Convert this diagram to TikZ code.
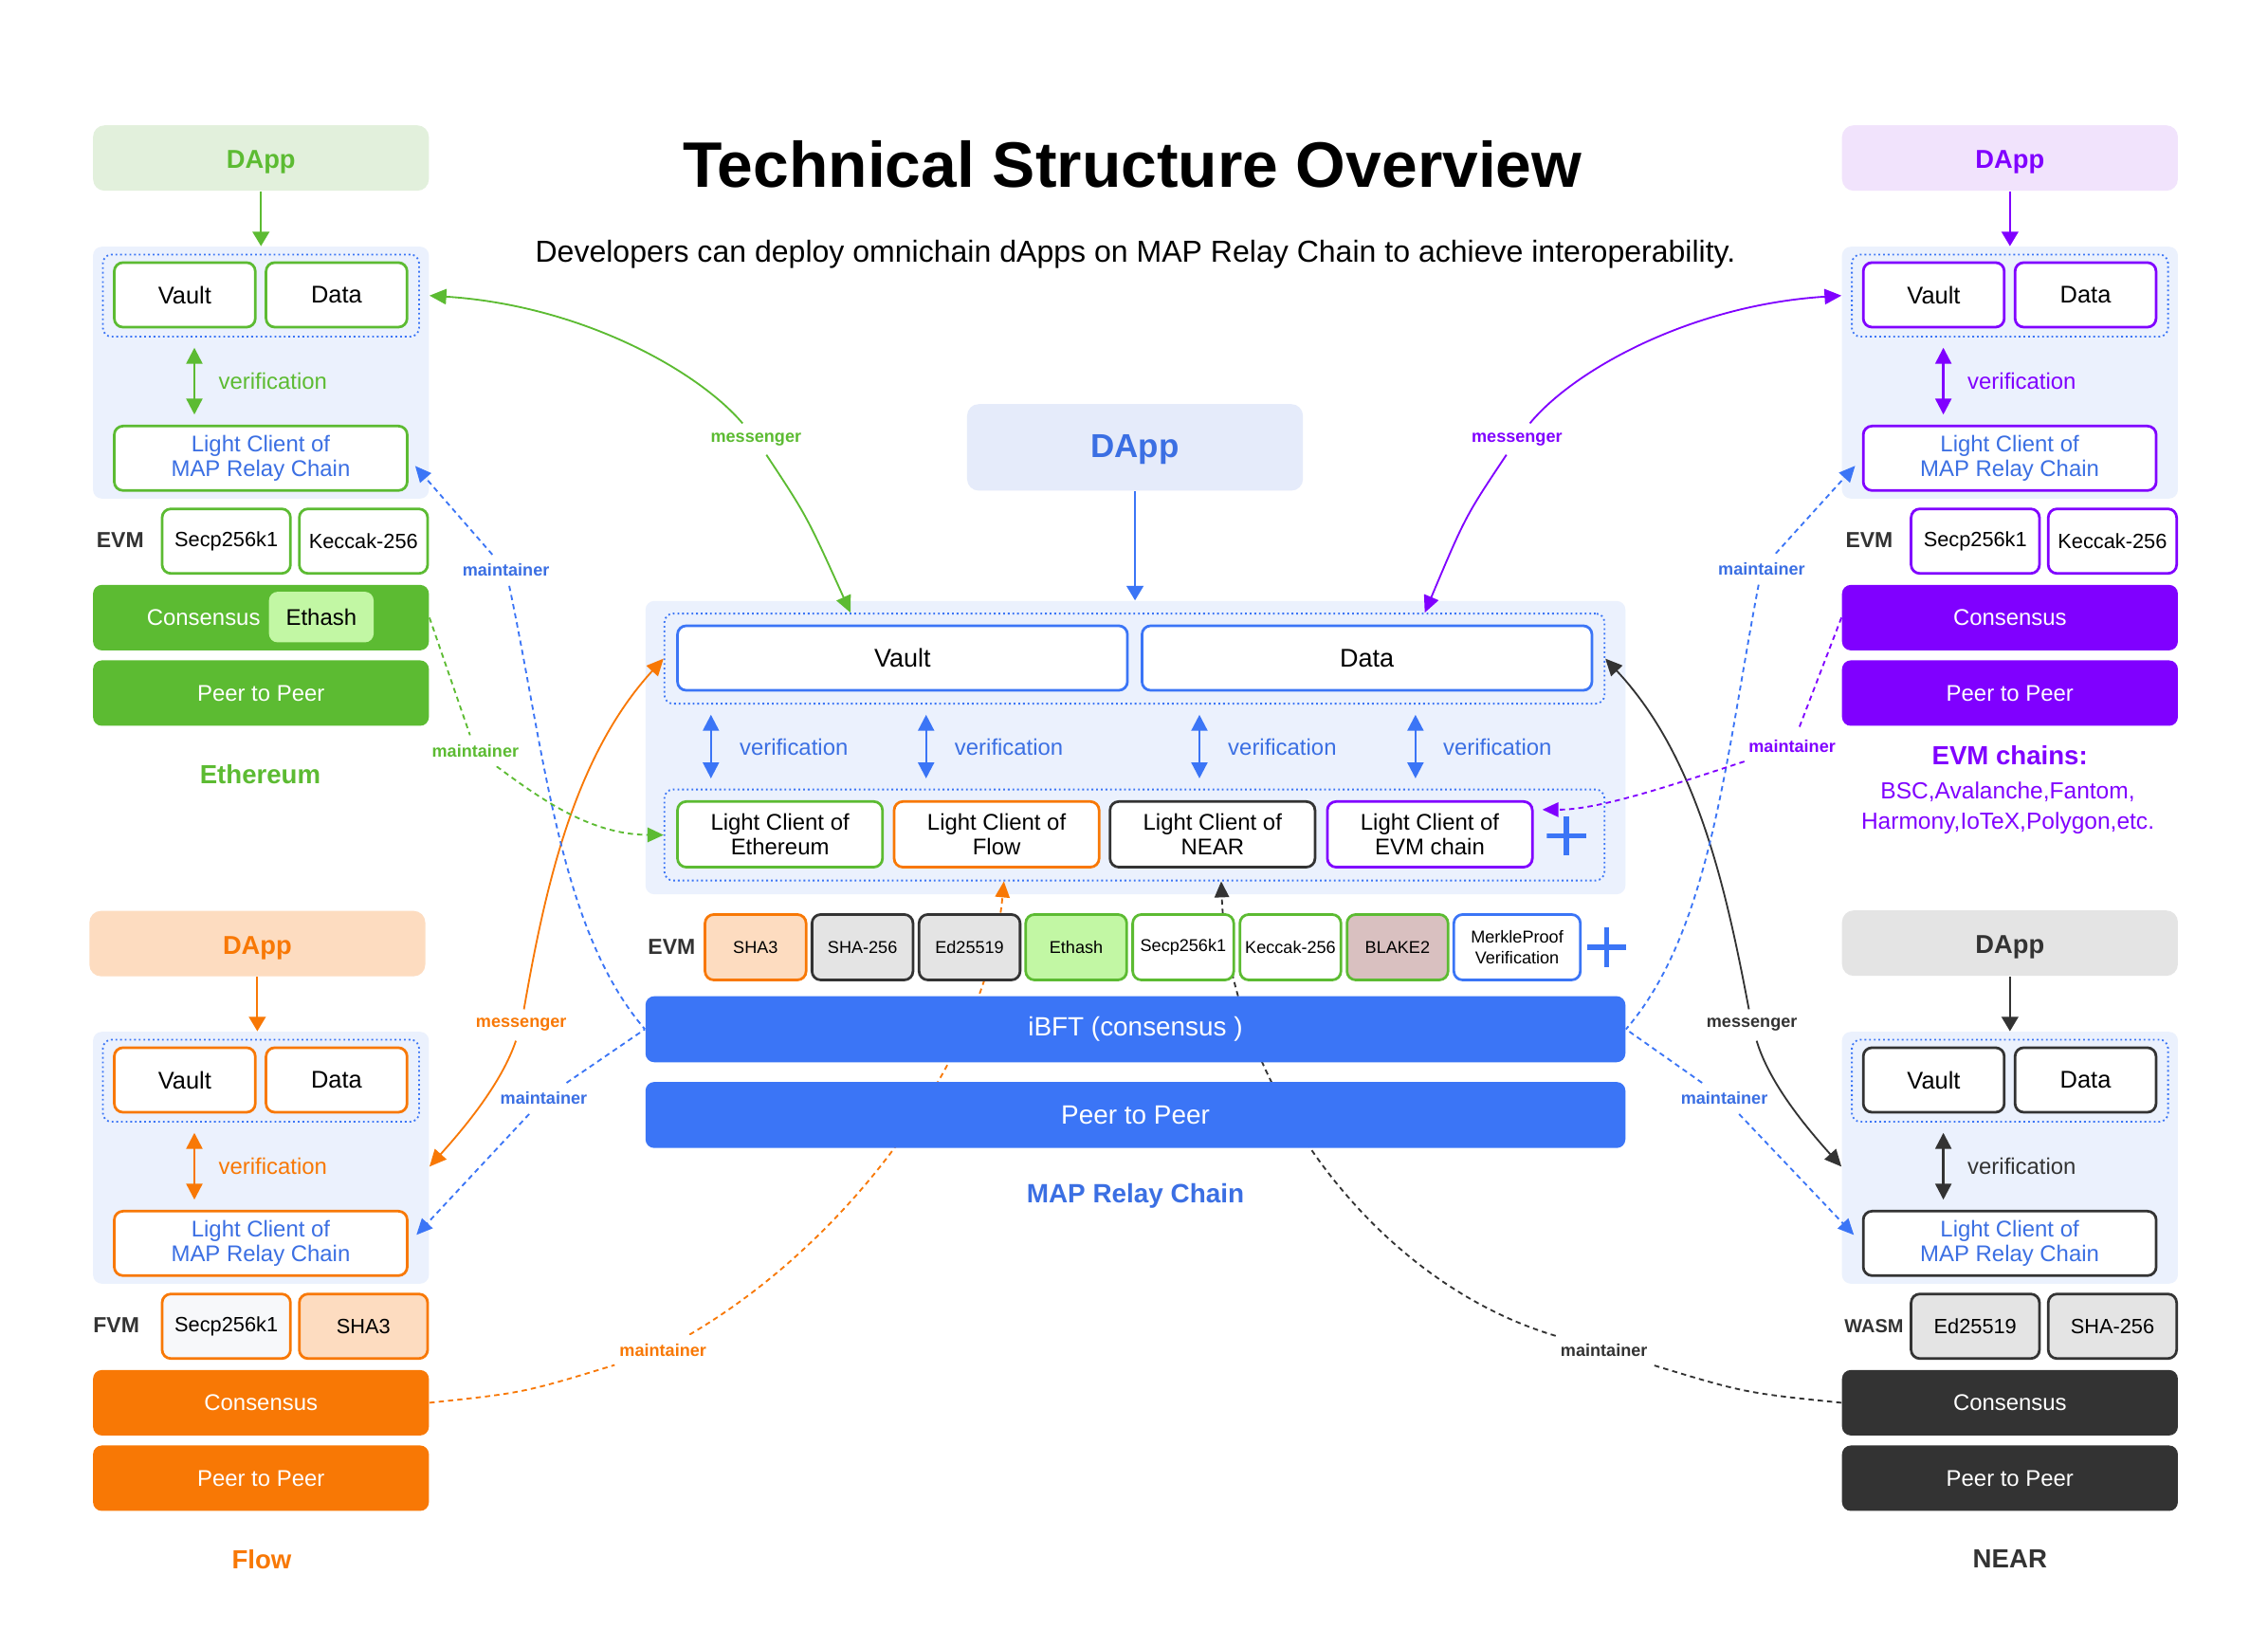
\documentclass[tikz,border=0pt]{standalone}
\usepackage{fontspec}
\setmainfont{Liberation Sans}
\usetikzlibrary{arrows.meta,calc}
\pgfdeclarelayer{back}
\pgfdeclarelayer{links}
\pgfsetlayers{back,links,main}
\definecolor{gGreen}{HTML}{5CBB32}
\definecolor{gGreenL}{HTML}{E2F0DC}
\definecolor{gHash}{HTML}{C2F7A4}
\definecolor{pPurple}{HTML}{8000FF}
\definecolor{pPurpleL}{HTML}{F1E3FC}
\definecolor{oOrange}{HTML}{F87805}
\definecolor{oOrangeL}{HTML}{FDDCC0}
\definecolor{kDark}{HTML}{333333}
\definecolor{kGrey}{HTML}{E4E4E4}
\definecolor{bBlue}{HTML}{3B75F6}
\definecolor{bText}{HTML}{3B6FE3}
\definecolor{bPanel}{HTML}{EBF1FD}
\definecolor{bApp}{HTML}{E5EBFA}
\definecolor{rBlake}{HTML}{D9C0C0}
\definecolor{fSecp}{HTML}{F7F8FA}

\begin{document}
\begin{tikzpicture}[x=0.5pt,y=-0.5pt,
    panel/.style={fill=bPanel, rounded corners=3pt, inner sep=0pt, minimum width=115.5pt, minimum height=86.6pt},
    dotbox/.style={draw=bBlue, densely dotted, line width=0.6pt, rounded corners=3pt, inner sep=0pt},
    cbox/.style={draw, fill=white, line width=0.9pt, rounded corners=3pt, inner sep=0pt, align=center, text=black},
    bar/.style={rounded corners=3pt, inner sep=0pt, text=white, minimum width=115.5pt, minimum height=22.5pt, font=\fontsize{7.8}{9}\selectfont},
    appbox/.style={rounded corners=4pt, inner sep=0pt, minimum width=115.5pt, minimum height=22.5pt, text height=0.72em, text depth=0pt, font=\bfseries\fontsize{8.9}{10}\selectfont},
    vmtag/.style={font=\bfseries\fontsize{7.5}{9}\selectfont, text=kDark},
    side/.style={cbox, minimum width=48.5pt, minimum height=22.2pt, font=\fontsize{8.3}{10}\selectfont},
    crypto/.style={cbox, minimum width=44.15pt, minimum height=22.2pt, font=\fontsize{7.1}{9}\selectfont},
    sidelc/.style={cbox, text=bText, minimum width=100.75pt, minimum height=22.15pt, font=\fontsize{7.8}{8.6}\selectfont},
    verlbl/.style={anchor=west, inner sep=0pt, font=\fontsize{7.8}{9}\selectfont},
    chainname/.style={font=\bfseries\fontsize{9}{11}\selectfont},
    lbl/.style={fill=white, inner xsep=1.5pt, inner ysep=3pt, font=\bfseries\fontsize{5.9}{7}\selectfont},
    evmbox/.style={cbox, minimum width=34.75pt, minimum height=22.5pt, font=\fontsize{5.9}{7.2}\selectfont},
    centerlc/.style={cbox, minimum width=70.5pt, minimum height=22.55pt, font=\fontsize{7.8}{8.7}\selectfont},
    plussign/.style={minimum size=13.5pt, inner sep=0pt, path picture={\draw[bBlue, line width=1.8pt] (path picture bounding box.west) -- (path picture bounding box.east) (path picture bounding box.north) -- (path picture bounding box.south);}},
    down/.style={-{Triangle[length=5pt,width=5.8pt]}, line width=0.7pt},
    ver/.style={{Triangle[length=5.5pt,width=5.5pt]}-{Triangle[length=5.5pt,width=5.5pt]}, line width=0.8pt, shorten <=3.5pt, shorten >=3.5pt},
    msg/.style={-{Triangle[length=5.8pt,width=5.3pt]}, line width=0.6pt},
    mnt/.style={-{Triangle[length=5.5pt,width=5pt]}, line width=0.6pt, dash pattern=on 1.8pt off 1.4pt},
    mntline/.style={line width=0.6pt, dash pattern=on 1.8pt off 1.4pt}]

    \useasboundingbox (0,0) rectangle (1560,1120.4);

    \begin{pgfonlayer}{back}
        \fill[white] (0,0) rectangle (1560,1120.4);
        \node[panel] (ethPanel) at (179.5,256.3) {};
        \node[panel] (evmPanel) at (1382.5,256.3) {};
        \node[panel] (flowPanel) at (179.5,796.3) {};
        \node[panel] (nearPanel) at (1382.5,796.3) {};
        \node[panel, minimum width=337pt, minimum height=100.85pt] (cPanel) at (781,514.2) {};
    \end{pgfonlayer}

    % title
    \node[font=\bfseries\fontsize{22.1}{26}\selectfont] (title) at (779,113) {Technical Structure Overview};
    \node[font=\fontsize{10.45}{12}\selectfont] (subtitle) at (781,175) {Developers can deploy omnichain dApps on MAP Relay Chain to achieve interoperability.};

    % Ethereum
    \node[appbox, fill=gGreenL, text=gGreen] (ethApp) at (179.5,108.7) {DApp};
    \node[dotbox, minimum width=108.75pt, minimum height=28.25pt] (ethDot) at (179.5,203.3) {};
    \node[side, draw=gGreen] (ethVault) at (127.1,202.8) {Vault};
    \node[side, draw=gGreen] (ethData) at (231.5,202.8) {Data};
    \node[verlbl, text=gGreen] (ethVer) at (150,262.4) {verification};
    \node[sidelc, draw=gGreen] (ethLC) at (179.35,315.2) {Light Client of\\MAP Relay Chain};
    \node[vmtag] (ethVM) at (82.7,371.6) {EVM};
    \node[crypto, draw=gGreen] (ethSecp) at (155.65,372.2) {Secp256k1};
    \node[crypto, draw=gGreen] (ethKec) at (250,372.2) {Keccak-256};
    \node[bar, fill=gGreen] (ethCons) at (179.5,424.8) {};
    \node[text=white, font=\fontsize{7.8}{9}\selectfont] (ethConsT) at (140,425) {Consensus};
    \node[rounded corners=3pt, fill=gHash, minimum width=36pt, minimum height=17.4pt, inner sep=0pt, font=\fontsize{7.8}{9}\selectfont] (ethHash) at (221,424.4) {Ethash};
    \node[bar, fill=gGreen] (ethP2P) at (179.5,476.7) {Peer to Peer};
    \node[chainname, text=gGreen] (ethName) at (179,532.3) {Ethereum};

    % EVM chains
    \node[appbox, fill=pPurpleL, text=pPurple] (evmApp) at (1382.5,108.7) {DApp};
    \node[dotbox, minimum width=108.75pt, minimum height=28.25pt] (evmDot) at (1382.5,203.3) {};
    \node[side, draw=pPurple] (evmVault) at (1330.1,202.8) {Vault};
    \node[side, draw=pPurple] (evmData) at (1434.5,202.8) {Data};
    \node[verlbl, text=pPurple] (evmVer) at (1353,262.4) {verification};
    \node[sidelc, draw=pPurple] (evmLC) at (1382.35,315.2) {Light Client of\\MAP Relay Chain};
    \node[vmtag] (evmVM) at (1285.7,371.6) {EVM};
    \node[crypto, draw=pPurple] (evmSecp) at (1358.65,372.2) {Secp256k1};
    \node[crypto, draw=pPurple] (evmKec) at (1453,372.2) {Keccak-256};
    \node[bar, fill=pPurple] (evmCons) at (1382.5,424.8) {Consensus};
    \node[bar, fill=pPurple] (evmP2P) at (1382.5,476.7) {Peer to Peer};
    \node[chainname, text=pPurple] (evmName) at (1382.4,519.6) {EVM chains:};
    \node[text=pPurple, align=center, font=\fontsize{8}{10.5}\selectfont] (evmList) at (1381,556) {BSC,Avalanche,Fantom,\\Harmony,IoTeX,Polygon,etc.};

    % Flow
    \node[appbox, fill=oOrangeL, text=oOrange] (flowApp) at (177,649) {DApp};
    \node[dotbox, minimum width=108.75pt, minimum height=28.25pt] (flowDot) at (179.5,743.3) {};
    \node[side, draw=oOrange] (flowVault) at (127.1,742.8) {Vault};
    \node[side, draw=oOrange] (flowData) at (231.5,742.8) {Data};
    \node[verlbl, text=oOrange] (flowVer) at (150,802.4) {verification};
    \node[sidelc, draw=oOrange] (flowLC) at (179.35,855.2) {Light Client of\\MAP Relay Chain};
    \node[vmtag] (flowVM) at (80,911.6) {FVM};
    \node[crypto, draw=oOrange, fill=fSecp] (flowSecp) at (155.65,912.2) {Secp256k1};
    \node[crypto, draw=oOrange, fill=oOrangeL] (flowSha) at (250,912.2) {SHA3};
    \node[bar, fill=oOrange] (flowCons) at (179.5,964.8) {Consensus};
    \node[bar, fill=oOrange] (flowP2P) at (179.5,1016.7) {Peer to Peer};
    \node[chainname, text=oOrange] (flowName) at (180,1072.3) {Flow};

    % NEAR
    \node[appbox, fill=kGrey, text=kDark] (nearApp) at (1382.5,648.7) {DApp};
    \node[dotbox, minimum width=108.75pt, minimum height=28.25pt] (nearDot) at (1382.5,743.3) {};
    \node[side, draw=kDark] (nearVault) at (1330.1,742.8) {Vault};
    \node[side, draw=kDark] (nearData) at (1434.5,742.8) {Data};
    \node[verlbl, text=kDark] (nearVer) at (1353,802.4) {verification};
    \node[sidelc, draw=kDark] (nearLC) at (1382.35,855.2) {Light Client of\\MAP Relay Chain};
    \node[vmtag, font=\bfseries\fontsize{6.5}{8}\selectfont] (nearVM) at (1289,912) {WASM};
    \node[crypto, draw=kDark, fill=kGrey] (nearEd) at (1358.65,912.2) {Ed25519};
    \node[crypto, draw=kDark, fill=kGrey] (nearSha) at (1453,912.2) {SHA-256};
    \node[bar, fill=kDark] (nearCons) at (1382.5,964.8) {Consensus};
    \node[bar, fill=kDark] (nearP2P) at (1382.5,1016.7) {Peer to Peer};
    \node[chainname, text=kDark] (nearName) at (1382.5,1072.3) {NEAR};

    % MAP Relay Chain
    \node[appbox, fill=bApp, text=bText, minimum height=29.75pt, font=\bfseries\fontsize{11.4}{13}\selectfont] (cApp) at (780.7,307.7) {DApp};
    \node[dotbox, minimum width=323.3pt, minimum height=31pt] (cDot1) at (780.3,453) {};
    \node[cbox, draw=bBlue, minimum width=154.75pt, minimum height=22.2pt, font=\fontsize{8.8}{10}\selectfont] (cVault) at (620.75,452.6) {Vault};
    \node[cbox, draw=bBlue, minimum width=154.75pt, minimum height=22.2pt, font=\fontsize{8.8}{10}\selectfont] (cData) at (940.25,452.6) {Data};
    \node[text=bText, font=\fontsize{7.8}{9}\selectfont] (cVer1) at (546,514) {verification};
    \node[text=bText, font=\fontsize{7.8}{9}\selectfont] (cVer2) at (694,514) {verification};
    \node[text=bText, font=\fontsize{7.8}{9}\selectfont] (cVer3) at (882,514) {verification};
    \node[text=bText, font=\fontsize{7.8}{9}\selectfont] (cVer4) at (1030,514) {verification};
    \node[dotbox, minimum width=323.3pt, minimum height=31.3pt] (cDot2) at (780.3,574.3) {};
    \node[centerlc, draw=gGreen] (lcEth) at (536.5,573.85) {Light Client of\\Ethereum};
    \node[centerlc, draw=oOrange] (lcFlow) at (685.5,573.85) {Light Client of\\Flow};
    \node[centerlc, draw=kDark] (lcNear) at (834,573.85) {Light Client of\\NEAR};
    \node[centerlc, draw=pPurple] (lcEVM) at (983.5,573.85) {Light Client of\\EVM chain};
    \node[plussign] (cPlus1) at (1077.5,575) {};

    \node[vmtag] (cVM) at (462,651.5) {EVM};
    \node[evmbox, draw=oOrange, fill=oOrangeL] (hSha3) at (519.7,651.5) {SHA3};
    \node[evmbox, draw=kDark, fill=kGrey] (hSha256) at (593.25,651.5) {SHA-256};
    \node[evmbox, draw=kDark, fill=kGrey] (hEd) at (666.9,651.5) {Ed25519};
    \node[evmbox, draw=gGreen, fill=gHash] (hEthash) at (740.25,651.5) {Ethash};
    \node[evmbox, draw=gGreen] (hSecp) at (813.85,651.5) {Secp256k1};
    \node[evmbox, draw=gGreen] (hKec) at (887.6,651.5) {Keccak-256};
    \node[evmbox, draw=gGreen, fill=rBlake] (hBlake) at (961.25,651.5) {BLAKE2};
    \node[evmbox, draw=bBlue, minimum width=43.5pt] (hMerkle) at (1043.5,651.5) {MerkleProof\\Verification};
    \node[plussign] (cPlus2) at (1105,651.5) {};

    \node[bar, fill=bBlue, minimum width=337pt, minimum height=22.7pt, font=\fontsize{9.1}{11}\selectfont] (cIBFT) at (781,707.9) {iBFT (consensus )};
    \node[bar, fill=bBlue, minimum width=337pt, minimum height=22.7pt, font=\fontsize{9.1}{11}\selectfont] (cP2P) at (781,766.9) {Peer to Peer};
    \node[chainname, text=bText, font=\bfseries\fontsize{9.1}{11}\selectfont] (cName) at (781,822.8) {MAP Relay Chain};

    % labels on the links
    \node[lbl, text=gGreen] (mG) at (520,302) {messenger};
    \node[lbl, text=pPurple] (mP) at (1043.4,302) {messenger};
    \node[lbl, text=oOrange] (mO) at (358.5,705) {messenger};
    \node[lbl, text=kDark] (mK) at (1205,705) {messenger};
    \node[lbl, text=bText] (tBL1) at (348,392.2) {maintainer};
    \node[lbl, text=bText] (tBL2) at (374,755.5) {maintainer};
    \node[lbl, text=bText] (tBR1) at (1211.7,391.4) {maintainer};
    \node[lbl, text=bText] (tBR2) at (1186,755.5) {maintainer};
    \node[lbl, text=gGreen] (tG) at (327,516.4) {maintainer};
    \node[lbl, text=pPurple] (tP) at (1232.7,513) {maintainer};
    \node[lbl, text=oOrange] (tO) at (456,928.7) {maintainer};
    \node[lbl, text=kDark] (tK) at (1103.3,928.7) {maintainer};

    \begin{pgfonlayer}{links}
        % dapp to contracts
        \draw[down, gGreen] (ethApp.south) -- (ethApp.south |- ethPanel.north);
        \draw[down, pPurple] (evmApp.south) -- (evmApp.south |- evmPanel.north);
        \draw[down, oOrange] (flowApp.south) -- (flowApp.south |- flowPanel.north);
        \draw[down, kDark] (nearApp.south) -- (nearApp.south |- nearPanel.north);
        \draw[down, bBlue] (cApp.south) -- (cApp.south |- cPanel.north);
        % verification
        \draw[ver, gGreen] (ethDot.south -| 133.7,0) -- (ethLC.north -| 133.7,0);
        \draw[ver, pPurple] (evmDot.south -| 1336.7,0) -- (evmLC.north -| 1336.7,0);
        \draw[ver, oOrange] (flowDot.south -| 133.7,0) -- (flowLC.north -| 133.7,0);
        \draw[ver, kDark] (nearDot.south -| 1336.7,0) -- (nearLC.north -| 1336.7,0);
        \draw[ver, bBlue] (cDot1.south -| 489,0) -- (cDot2.north -| 489,0);
        \draw[ver, bBlue] (cDot1.south -| 637,0) -- (cDot2.north -| 637,0);
        \draw[ver, bBlue] (cDot1.south -| 825,0) -- (cDot2.north -| 825,0);
        \draw[ver, bBlue] (cDot1.south -| 973.6,0) -- (cDot2.north -| 973.6,0);
        % messenger
        \draw[msg, gGreen] (mG) .. controls (480,255) and (400,210) .. (ethPanel.east |- ethDot);
        \draw[msg, gGreen] (mG) .. controls (555,355) .. (cDot1.north -| 585,0);
        \draw[msg, pPurple] (mP) .. controls (1082,255) and (1162,210) .. (evmPanel.west |- evmDot);
        \draw[msg, pPurple] (mP) .. controls (1008,355) .. (cDot1.north -| 980,0);
        \draw[msg, oOrange] (mO) .. controls (375,610) and (395,520) .. (cDot1.west);
        \draw[msg, oOrange] (mO) .. controls (345,745) and (320,775) .. (flowPanel.east |- flowVer);
        \draw[msg, kDark] (mK) .. controls (1187,610) and (1167,520) .. (cDot1.east);
        \draw[msg, kDark] (mK) .. controls (1217,745) and (1242,775) .. (nearPanel.west |- nearVer);
        % maintainer
        \draw[mntline, bBlue] (tBL1) .. controls (375,520) and (385,640) .. (cIBFT.west);
        \draw[mnt, bBlue, shorten >=3.5pt] (tBL1) -- (ethLC.east);
        \draw[mntline, bBlue] (tBL2) -- (cIBFT.west);
        \draw[mnt, bBlue, shorten >=4pt] (tBL2) -- (flowLC.east);
        \draw[mntline, bBlue] (tBR1) .. controls (1187,520) and (1177,640) .. (cIBFT.east);
        \draw[mnt, bBlue, shorten >=3.5pt] (tBR1) -- (evmLC.west);
        \draw[mntline, bBlue] (tBR2) -- (cIBFT.east);
        \draw[mnt, bBlue, shorten >=4pt] (tBR2) -- (nearLC.west);
        \draw[mntline, gGreen] (ethCons.east) -- (tG);
        \draw[mnt, gGreen] (tG) .. controls (370,548) and (405,574) .. (cDot2.west);
        \draw[mntline, pPurple] (evmCons.west) -- (tP);
        \draw[mnt, pPurple] (tP) .. controls (1150,540) and (1100,557) .. ($(lcEVM.east)+(6,-17)$);
        \draw[mntline, oOrange] (flowCons.east) .. controls (360,958) .. (tO);
        \draw[mnt, oOrange] (tO) .. controls (590,850) and (680,720) .. ($(lcFlow.south |- cDot2.south)+(5,0)$);
        \draw[mntline, kDark] (nearCons.west) .. controls (1200,958) .. (tK);
        \draw[mnt, kDark] (tK) .. controls (940,880) and (845,740) .. ($(lcNear.south |- cDot2.south)+(6,0)$);
    \end{pgfonlayer}
\end{tikzpicture}
\end{document}
